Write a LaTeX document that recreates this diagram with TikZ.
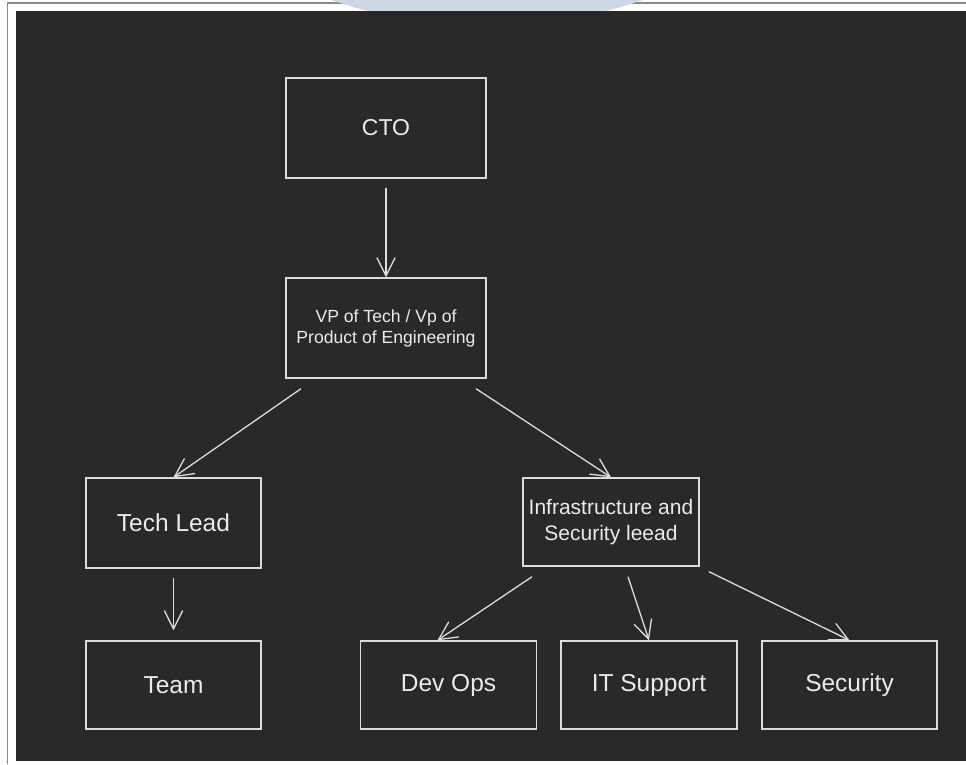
\documentclass[tikz,border=0pt]{standalone}
\usepackage{fontspec}
\setmainfont{Liberation Sans}
\usetikzlibrary{arrows.meta}
\definecolor{bgdark}{HTML}{292929}
\definecolor{linegray}{HTML}{DCDCDC}
\definecolor{txt}{HTML}{EBEBEB}
\definecolor{framegray}{HTML}{8A8A8A}
\definecolor{blob}{HTML}{CCD8E6}
\tikzset{
  box/.style={draw=linegray, line width=1.4pt, text=txt, align=center, inner sep=0pt},
  bigtxt/.style={font=\fontsize{24.5}{28}\selectfont},
  conn/.style={draw=linegray, line width=1.3pt, -{Straight Barb[length=18pt,width=18pt,line cap=round]}}
}
\begin{document}
\begin{tikzpicture}[x=1pt,y=-1pt]
\useasboundingbox (0,0) rectangle (966,764);
\begin{scope}
\clip (0,0) rectangle (966,764);
\fill[white] (0,0) rectangle (966,764);
\draw[framegray, line width=1.5pt] (7.3,764) -- (7.3,3) -- (966,3);
\fill[blob] (487,-450) circle[radius=476];
\fill[bgdark] (16,11) rectangle (966,761);
\end{scope}

\node[box, font=\fontsize{23}{27}\selectfont, minimum width=200, minimum height=100] (cto) at (386,128) {CTO};
\node[box, font=\fontsize{17.6}{21}\selectfont, minimum width=200, minimum height=100] (vp) at (386,328) {VP of Tech / Vp of\\Product of Engineering};
\node[box, bigtxt, minimum width=175, minimum height=90] (tl) at (173.5,523) {Tech Lead};
\node[box, font=\fontsize{21}{26}\selectfont, minimum width=176, minimum height=88] (infra) at (611,522) {Infrastructure and\\Security leead};
\node[box, bigtxt, minimum width=175, minimum height=88] (team) at (173.5,685) {Team};
\node[box, bigtxt, minimum width=176, minimum height=88] (devops) at (448.5,685) {Dev Ops};
\node[box, bigtxt, minimum width=176, minimum height=88] (it) at (649,685) {IT Support};
\node[box, bigtxt, minimum width=175, minimum height=88] (sec) at (849.5,685) {Security};

\draw[conn] ([yshift=-9pt]cto.south) -- (vp.north);
\draw[conn] ([xshift=-85pt,yshift=-10pt]vp.south) -- (tl.north);
\draw[conn] ([xshift=90pt,yshift=-10pt]vp.south) -- (infra.north);
\draw[conn] ([yshift=-9pt]tl.south) -- ([yshift=10pt]team.north);
\draw[conn] ([xshift=-79pt,yshift=-10pt]infra.south) -- ([xshift=-11pt]devops.north);
\draw[conn] ([xshift=17pt,yshift=-10pt]infra.south) -- (it.north);
\draw[conn] ([xshift=98pt,yshift=-5pt]infra.south) -- (sec.north);
\end{tikzpicture}
\end{document}
